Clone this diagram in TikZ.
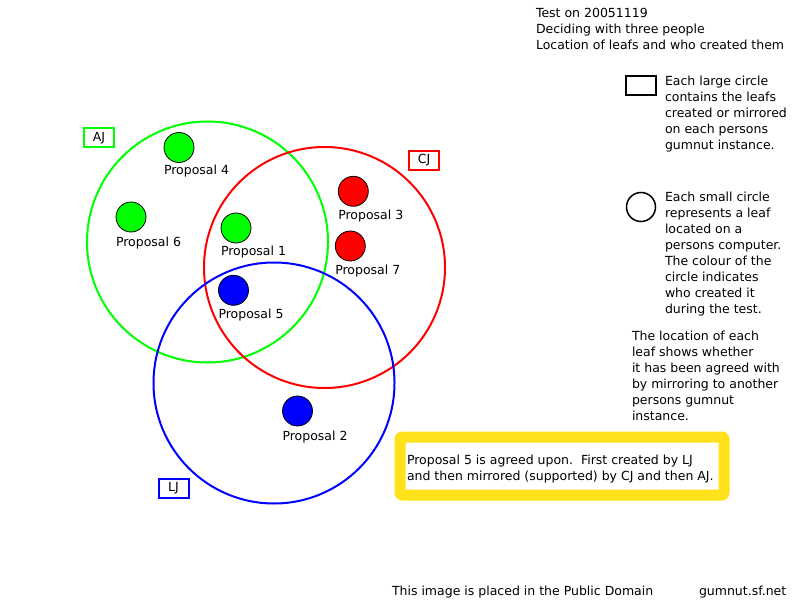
\documentclass[tikz,border=0pt]{standalone}
\usepackage{fontspec}
\setmainfont{DejaVu Sans}
\definecolor{hiyellow}{RGB}{255,226,26}
\begin{document}
\begin{tikzpicture}[x=1bp,y=-1bp,
  every node/.style={font=\fontsize{12.5bp}{16bp}\selectfont, inner sep=0pt, outer sep=0pt},
  bigcircle/.style={draw, circle, line width=2bp, minimum size=241bp},
  leaf/.style={draw=black, circle, line width=0.8bp, minimum size=30bp},
  plabel/.style={anchor=west},
  tagbox/.style={draw, line width=2bp, minimum width=30bp, minimum height=19bp},
  para/.style={align=left, anchor=base west},
]
\useasboundingbox (0,0) rectangle (800,600);
\fill[white] (0,0) rectangle (800,600);

% header (anchor = baseline of last line)
\node[para] (head) at (536,49.5) {Test on 20051119\\Deciding with three people\\Location of leafs and who created them};

% large circles
\node[bigcircle, draw=green] (aj) at (207.5,242) {};
\node[bigcircle, draw=red] (cj) at (324.5,267.5) {};
\node[bigcircle, draw=blue] (lj) at (274,383) {};

% tags
\node[tagbox, draw=green] (ajtag) at (99,138) {AJ};
\node[tagbox, draw=red] (cjtag) at (424,160.5) {CJ};
\node[tagbox, draw=blue] (ljtag) at (173.5,488.5) {LJ};

% leaves
\node[leaf, fill=green] (p4) at (179,147.5) {};
\node[leaf, fill=green] (p6) at (131,217) {};
\node[leaf, fill=green] (p1) at (236,228) {};
\node[leaf, fill=blue] (p5) at (233.5,290.3) {};
\node[leaf, fill=red] (p3) at (353.3,191.3) {};
\node[leaf, fill=red] (p7) at (350.3,246) {};
\node[leaf, fill=blue] (p2) at (297.5,411) {};

\node[plabel] (l4) at ([yshift=-24bp]p4.west) {Proposal 4};
\node[plabel] (l6) at ([yshift=-26bp]p6.west) {Proposal 6};
\node[plabel] (l1) at ([yshift=-24bp]p1.west) {Proposal 1};
\node[plabel] (l5) at ([yshift=-25bp]p5.west) {Proposal 5};
\node[plabel] (l3) at ([yshift=-25bp]p3.west) {Proposal 3};
\node[plabel] (l7) at ([yshift=-25bp]p7.west) {Proposal 7};
\node[plabel] (l2) at ([yshift=-26bp]p2.west) {Proposal 2};

% legend
\node[draw=black, line width=2bp, minimum width=30bp, minimum height=19bp] (legbox) at (641,85.5) {};
\node[para] (legtext1) at (665,149.5) {Each large circle\\contains the leafs\\created or mirrored\\on each persons\\gumnut instance.};
\node[draw=black, circle, line width=1.5bp, minimum size=29bp] (legcirc) at (641,207) {};
\node[para] (legtext2) at (665,313.5) {Each small circle\\represents a leaf\\located on a\\persons computer.\\The colour of the\\circle indicates\\who created it\\during the test.};
\node[para] (legtext3) at (632,420.5) {The location of each\\leaf shows whether\\it has been agreed with\\by mirroring to another\\persons gumnut\\instance.};

% note box
\draw[hiyellow, line width=11bp, line join=round, rounded corners=2bp] (400,437) rectangle (724,495);
\node[para] (note) at (407,480.5) {Proposal 5 is agreed upon.\ \ First created by LJ\\and then mirrored (supported) by CJ and then AJ.};

% footer
\node[anchor=base west] (pd) at (392,595.5) {This image is placed in the Public Domain};
\node[anchor=base west] (site) at (699,595.5) {gumnut.sf.net};
\end{tikzpicture}
\end{document}
